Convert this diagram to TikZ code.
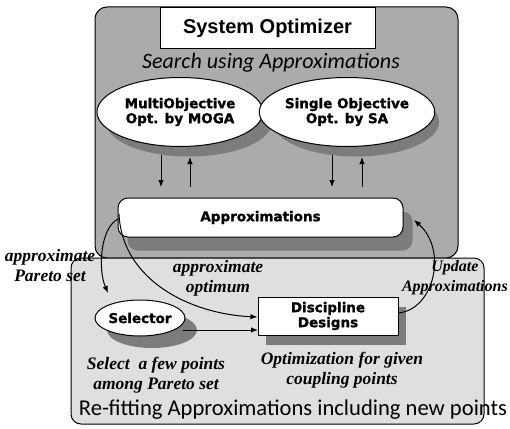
\documentclass[tikz,border=0pt]{standalone}
\usepackage{fontspec}
\setmainfont{Liberation Serif}
\newfontfamily\heavyfont{DejaVu Sans}[BoldFeatures={FakeBold=1.2}]
\newfontfamily\arialfont{Liberation Sans}
\newfontfamily\calfont{Carlito}
\usetikzlibrary{arrows.meta,shapes.geometric}
\definecolor{topgray}{HTML}{ABABAB}
\definecolor{botgray}{HTML}{DFDFDF}
\definecolor{shadowgray}{HTML}{7C7C7C}
\begin{document}
\begin{tikzpicture}[x=1pt,y=-1pt,
  heavy/.style={font=\heavyfont\bfseries\fontsize{13.5}{15}\selectfont, align=center},
  ell/.style={ellipse, draw, line width=1pt, fill=white, inner sep=0pt, heavy},
  boxn/.style={rectangle, draw, line width=1pt, fill=white, inner sep=0pt, heavy},
  lab/.style={font=\bfseries\itshape\fontsize{17.5}{20}\selectfont, align=center, inner sep=0pt},
  arr/.style={line width=1pt, -{Latex[length=7pt,width=5.5pt]}},
  shd/.style={fill=shadowgray, draw=none, inner sep=0pt},
  panel/.style={draw, line width=1pt},
]
\useasboundingbox (0,0) rectangle (510,428);
% panels
\path[panel, fill=topgray, rounded corners=12pt] (95,7) rectangle (458,258);
\path[panel, fill=botgray, rounded corners=10pt] (71,258) rectangle (484,424);
% shadows
\node[shd, ellipse, minimum width=166, minimum height=69] at (189,122) {};
\node[shd, ellipse, minimum width=166, minimum height=69] at (356,122) {};
\node[shd, rectangle, rounded corners=10pt, minimum width=285, minimum height=39] at (270,231) {};
\node[shd, ellipse, minimum width=90, minimum height=36] at (152,330) {};
\node[shd, rectangle, minimum width=140, minimum height=38] at (336,326) {};
% title
\node[draw, line width=1pt, fill=white, minimum width=215, minimum height=40, inner sep=0pt,
  font=\arialfont\bfseries\fontsize{20}{22}\selectfont] (title) at (267.5,28) {System Optimizer};
\node[font=\calfont\itshape\fontsize{22}{24}\selectfont, inner sep=0pt] (search) at (271,63) {Search using Approximations};
% ellipses
\node[ell, minimum width=166, minimum height=69] (moga) at (180,112) {MultiObjective\\Opt. by MOGA};
\node[ell, minimum width=166, minimum height=69] (sa) at (347,112) {Single Objective\\Opt. by SA};
% approximations
\node[boxn, rounded corners=10pt, minimum width=285, minimum height=39] (approx) at (260.5,217.5) {Approximations};
% selector and discipline
\node[ell, minimum width=90, minimum height=36] (sel) at (140,318) {Selector};
\node[boxn, minimum width=140, minimum height=38] (dd) at (328,316) {Discipline\\Designs};
% small vertical arrows
\coordinate (m1) at (161,155); \coordinate (m2) at (161,187);
\coordinate (m3) at (190,187); \coordinate (m4) at (190,157);
\coordinate (s1) at (332,155); \coordinate (s2) at (332,187);
\coordinate (s3) at (362,187); \coordinate (s4) at (362,157);
\draw[arr] (m1) -- (m2);
\draw[arr] (m3) -- (m4);
\draw[arr] (s1) -- (s2);
\draw[arr] (s3) -- (s4);
% curved connectors
\coordinate (pa) at (118,219);
\coordinate (pt) at (108,293);
\draw[arr] (pa) .. controls (100,228) and (98,270) .. (pt);
\coordinate (oa) at (119,214);
\draw[arr] (oa) .. controls (122,280) and (190,314) .. ([yshift=-1]dd.west);
\coordinate (ub) at (398,313);
\coordinate (ut) at (414,220);
\draw[arr] (ub) .. controls (434,310) and (448,250) .. (ut);
\coordinate (sa2) at (183,330);
\coordinate (sb1) at (258,330);
\draw[arr] (sa2) -- (sb1);
% labels
\node[lab] (l1) at (50,266) {approximate\\Pareto set};
\node[lab] (l2) at (218,278) {approximate\\optimum};
\node[lab, font=\bfseries\itshape\fontsize{16}{20}\selectfont, anchor=east] (l3) at (508,278) {Update\\Approximations};
\node[lab] (l4) at (156,375) {Select\ \ a few points\\among Pareto set};
\node[lab] (l5) at (342,370) {Optimization for given\\coupling points};
\node[font=\calfont\fontsize{22.6}{25}\selectfont, inner sep=0pt] (l6) at (293,410) {Re-fitting Approximations including new points};
\end{tikzpicture}
\end{document}
